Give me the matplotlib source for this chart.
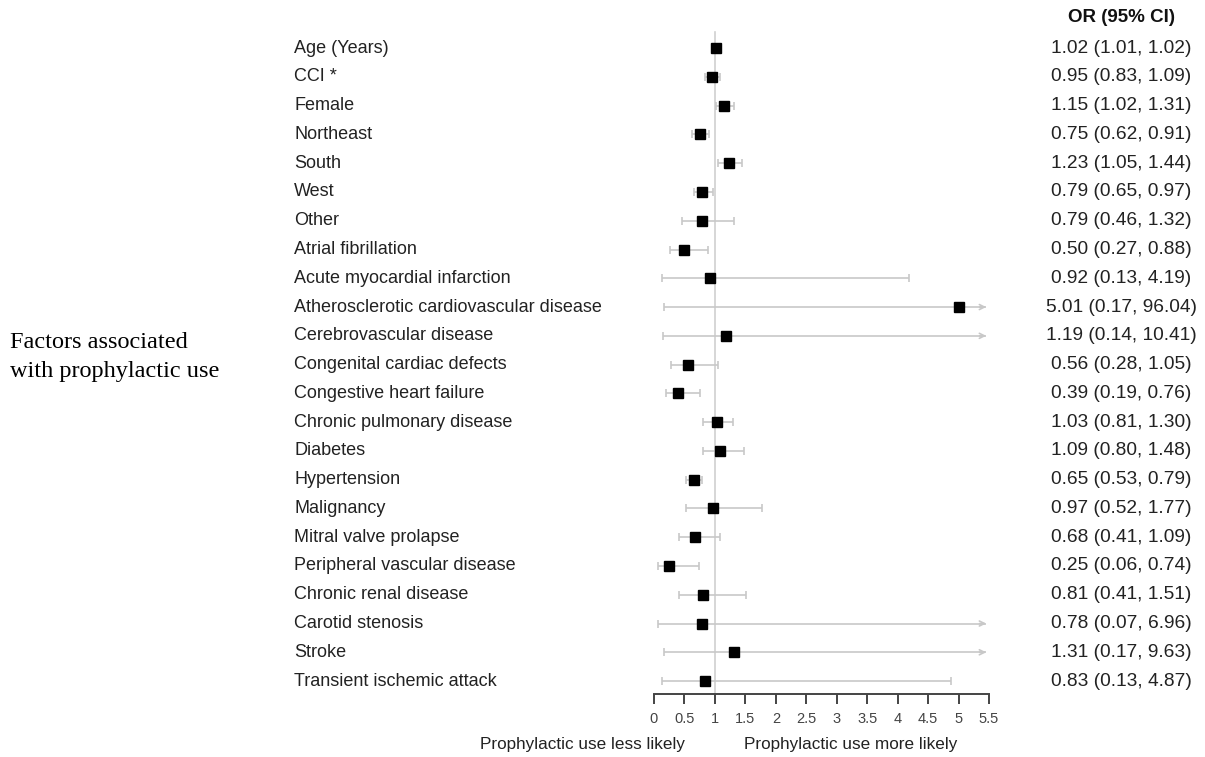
import matplotlib
matplotlib.use("Agg")
import matplotlib.pyplot as plt
import matplotlib.transforms as mtransforms

factors = ["Age (Years)", "CCI *", "Female", "Northeast", "South", "West", "Other",
           "Atrial fibrillation", "Acute myocardial infarction",
           "Atherosclerotic cardiovascular disease", "Cerebrovascular disease",
           "Congenital cardiac defects", "Congestive heart failure",
           "Chronic pulmonary disease", "Diabetes", "Hypertension", "Malignancy",
           "Mitral valve prolapse", "Peripheral vascular disease",
           "Chronic renal disease", "Carotid stenosis", "Stroke",
           "Transient ischemic attack"]
odds = [1.02, 0.95, 1.15, 0.75, 1.23, 0.79, 0.79, 0.50, 0.92, 5.01, 1.19, 0.56, 0.39,
        1.03, 1.09, 0.65, 0.97, 0.68, 0.25, 0.81, 0.78, 1.31, 0.83]
ci_low = [1.01, 0.83, 1.02, 0.62, 1.05, 0.65, 0.46, 0.27, 0.13, 0.17, 0.14, 0.28, 0.19,
          0.81, 0.80, 0.53, 0.52, 0.41, 0.06, 0.41, 0.07, 0.17, 0.13]
ci_high = [1.02, 1.09, 1.31, 0.91, 1.44, 0.97, 1.32, 0.88, 4.19, 96.04, 10.41, 1.05, 0.76,
           1.30, 1.48, 0.79, 1.77, 1.09, 0.74, 1.51, 6.96, 9.63, 4.87]
x_ticks = [0, 0.5, 1, 1.5, 2, 2.5, 3, 3.5, 4, 4.5, 5, 5.5]
x_tick_labels = ["0", "0.5", "1", "1.5", "2", "2.5", "3", "3.5", "4", "4.5", "5", "5.5"]

W, H = 1205, 757
fig = plt.figure(figsize=(W / 100, H / 100), dpi=100)
ax = fig.add_axes([654 / W, 1 - 694 / H, (989 - 654) / W, (694 - 30) / H])
XMAX = 5.5
ax.set_xlim(0, XMAX)
n = len(factors)
ax.set_ylim(n - 1 + 0.45, -0.63)

ci_col = "#c8c8c8"
for i in range(n):
    lo, hi, o = ci_low[i], ci_high[i], odds[i]
    if hi > XMAX:
        ax.plot([lo, XMAX - 0.05], [i, i], color=ci_col, lw=1.2, solid_capstyle="butt", zorder=2)
        ax.annotate("", xy=(XMAX, i), xytext=(XMAX - 0.2, i),
                    arrowprops=dict(arrowstyle="->", color=ci_col, lw=1.2, mutation_scale=9),
                    zorder=2)
        ax.plot([lo], [i], marker="|", color=ci_col, ms=6, mew=1.2, zorder=2)
    else:
        ax.errorbar([o], [i], xerr=[[o - lo], [hi - o]], fmt="none", ecolor=ci_col,
                    elinewidth=1.2, capsize=3, capthick=1.2, zorder=2)
    ax.plot([o], [i], marker="s", color="black", ms=7.2, zorder=4, linestyle="none")

ax.axvline(1, color="#d0d0d0", lw=1.2, zorder=1, ymax=(694 - 32) / (694 - 30))

for s in ["top", "right", "left"]:
    ax.spines[s].set_visible(False)
ax.spines["bottom"].set_color("#444444")
ax.spines["bottom"].set_linewidth(1.4)
ax.set_yticks([])
ax.set_xticks(x_ticks)
ax.set_xticklabels(x_tick_labels, fontsize=10.5, family="Liberation Sans", color="#444444")
ax.tick_params(axis="x", direction="out", length=7, width=1.4, color="#444444", pad=6)

trans = mtransforms.blended_transform_factory(fig.transFigure, ax.transData)
for i in range(n):
    ax.text(294 / W, i, factors[i], transform=trans, ha="left", va="center",
            fontsize=13, family="Liberation Sans", color="#222222")
    ax.text(1121 / W, i, f"{odds[i]:.2f} ({ci_low[i]:.2f}, {ci_high[i]:.2f})",
            transform=trans, ha="center", va="center",
            fontsize=13.8, family="Liberation Sans", color="#222222")

fig.text(1121 / W, 1 - 18 / H, "OR (95% CI)", ha="center", va="center",
         fontsize=13.5, fontweight="bold", family="Liberation Sans", color="#111111")
fig.text(10 / W, 1 - 348 / H, "Factors associated", ha="left",
         va="baseline", fontsize=17.5, family="Liberation Serif", color="black")
fig.text(10 / W, 1 - 377 / H, "with prophylactic use", ha="left",
         va="baseline", fontsize=17.5, family="Liberation Serif", color="black")
fig.text(583 / W, 1 - 745 / H, "Prophylactic use less likely", ha="center", va="center",
         fontsize=12.3, family="Liberation Sans", color="#222222")
fig.text(851 / W, 1 - 745 / H, "Prophylactic use more likely", ha="center", va="center",
         fontsize=12.3, family="Liberation Sans", color="#222222")

fig.savefig("out.png", dpi=100, facecolor="white")
